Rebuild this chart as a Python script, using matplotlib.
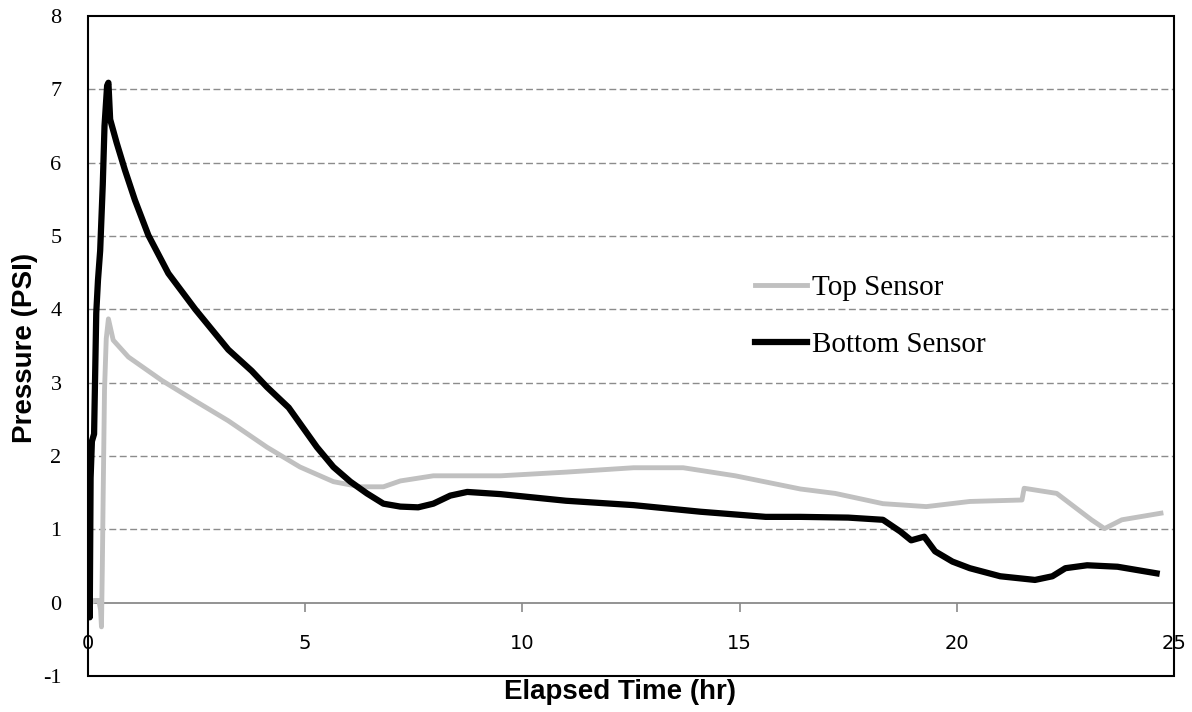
import matplotlib
matplotlib.use('Agg')
import matplotlib.pyplot as plt
from matplotlib.patches import Rectangle

# ---- data ----
top_t = [0.08, 0.14, 0.25, 0.29, 0.31, 0.33, 0.35, 0.38, 0.42, 0.47,
         0.58, 0.93, 1.7, 2.47, 3.23, 4.12, 4.88, 5.65, 6.27, 6.8,
         7.19, 7.95, 9.5, 11.0, 12.56, 13.7, 14.9, 16.4, 17.2, 18.3,
         19.3, 20.3, 21.5, 21.55, 22.3, 22.7, 23.1, 23.4, 23.8, 24.7]
top_p = [0.0, 0.03, 0.03, -0.1, -0.33, 0.5, 1.5, 2.9, 3.6, 3.87,
         3.58, 3.35, 3.03, 2.75, 2.48, 2.12, 1.85, 1.65, 1.58, 1.58,
         1.66, 1.73, 1.73, 1.78, 1.84, 1.84, 1.73, 1.55, 1.49, 1.35,
         1.31, 1.38, 1.4, 1.56, 1.49, 1.31, 1.13, 1.01, 1.13, 1.22]

bottom_t = [0.02, 0.04, 0.06, 0.09, 0.14, 0.19, 0.23, 0.28, 0.34, 0.38,
            0.44, 0.47, 0.51, 0.66, 0.85, 1.08, 1.39, 1.85, 2.47, 3.23,
            3.77, 4.12, 4.62, 5.27, 5.65, 6.04, 6.42, 6.8, 7.19, 7.6,
            7.95, 8.34, 8.73, 9.5, 11.0, 12.56, 14.1, 15.6, 16.4, 17.5,
            18.3, 18.7, 18.95, 19.25, 19.5, 19.9, 20.3, 21.0, 21.8, 22.2,
            22.5, 23.0, 23.7, 24.6]
bottom_p = [0.35, -0.2, 1.7, 2.2, 2.3, 3.95, 4.4, 4.8, 5.7, 6.5,
            7.05, 7.09, 6.59, 6.27, 5.9, 5.49, 5.01, 4.49, 4.0, 3.45,
            3.16, 2.94, 2.66, 2.12, 1.85, 1.65, 1.49, 1.35, 1.31, 1.3,
            1.35, 1.46, 1.51, 1.48, 1.39, 1.33, 1.24, 1.17, 1.17, 1.16,
            1.13, 0.97, 0.85, 0.9, 0.7, 0.56, 0.47, 0.36, 0.31, 0.36,
            0.47, 0.51, 0.49, 0.4]

x_ticks = [0, 5, 10, 15, 20, 25]
y_ticks = [-1, 0, 1, 2, 3, 4, 5, 6, 7, 8]
series_labels = ['Top Sensor', 'Bottom Sensor']
x_label = 'Elapsed Time (hr)'
y_label = 'Pressure (PSI)'

# ---- figure ----
W, H = 1192, 712
fig = plt.figure(figsize=(W / 100, H / 100), dpi=100)
ax = fig.add_axes([88 / W, 36 / H, 1086 / W, 660 / H])
ax.set_xlim(0, 25)
ax.set_ylim(-1, 8)

for y in y_ticks:
    if 0 < y < 8:
        ax.axhline(y, color='#8c8c8c', lw=1.0, ls=(0, (5, 2.5)), zorder=1)

ax.plot(top_t, top_p, color='#c0c0c0', lw=3.5, label=series_labels[0],
        zorder=3, solid_joinstyle='round')
ax.plot(bottom_t, bottom_p, color='black', lw=4.5, label=series_labels[1],
        zorder=4, solid_joinstyle='round')

for side in ['left', 'top', 'right']:
    ax.spines[side].set_visible(False)
ax.spines['bottom'].set_position(('data', 0))
ax.spines['bottom'].set_color('#8a8a8a')
ax.spines['bottom'].set_linewidth(1.3)
ax.spines['bottom'].set_zorder(2)

ax.add_patch(Rectangle((0, 0), 1, 1, transform=ax.transAxes, fill=False,
                       edgecolor='black', lw=1.5, zorder=5, clip_on=False))

ax.set_xticks(x_ticks)
ax.set_xticklabels([str(v) for v in x_ticks], fontsize=14, family='DejaVu Sans')
ax.tick_params(axis='x', direction='out', length=6.5, width=1.2, color='#8a8a8a', pad=16)

ax.set_yticks(y_ticks)
ax.set_yticklabels([str(v) for v in y_ticks], fontsize=16, family='Liberation Serif')
ax.tick_params(axis='y', length=0, pad=19)

fig.text(620 / W, 1 - 692 / H, x_label, ha='center', va='center',
         fontsize=20, fontweight='bold', family='Liberation Sans')
fig.text(25 / W, 1 - 348 / H, y_label, ha='center', va='center', rotation=90,
         fontsize=20, fontweight='bold', family='Liberation Sans')

ax.legend(loc='center left', bbox_to_anchor=(0.614, 0.545), frameon=False,
          prop={'family': 'Liberation Serif', 'size': 21}, handlelength=1.8,
          handletextpad=0.15, labelspacing=1.06, borderpad=0, borderaxespad=0)

fig.savefig('out.png', dpi=100)
